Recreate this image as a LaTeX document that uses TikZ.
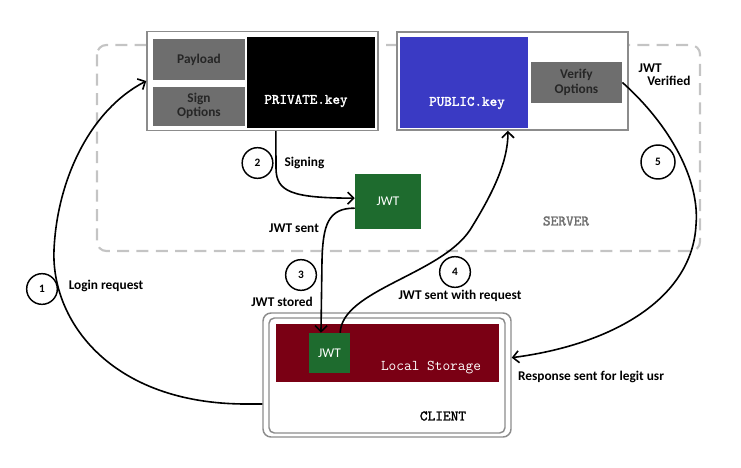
\documentclass[tikz,border=0pt]{standalone}
\usepackage{fontspec}
\setmainfont{Carlito}
\newfontfamily\keyfont{Latin Modern Mono}[FakeBold=1.6]
\usetikzlibrary{arrows.meta,positioning}

\definecolor{framegrey}{HTML}{8C8C8C}
\definecolor{optgrey}{HTML}{6E6E6E}
\definecolor{dashgrey}{HTML}{C4C4C4}
\definecolor{pubblue}{HTML}{3A3AC4}
\definecolor{jwtgreen}{HTML}{1E6B2E}
\definecolor{storered}{HTML}{7A0014}

\begin{document}
\begin{tikzpicture}[
        x=0.75pt, y=-0.75pt,
        every node/.style={font=\fontsize{10}{11}\selectfont\bfseries},
        frame/.style={
                draw=framegrey,
                line width=1.1pt,
                fill=white,
                minimum width=173.25pt,
                minimum height=74pt
        },
        optbox/.style={
                fill=optgrey,
                text=black!85,
                align=center,
                minimum width=68.5pt,
                inner sep=1pt
        },
        keybox/.style={minimum width=96pt, minimum height=68.25pt, inner sep=0pt},
        keytext/.style={text=white, font=\keyfont\fontsize{10.8}{12}\selectfont},
        jwt/.style={fill=jwtgreen, text=white, font=\fontsize{10}{11}\selectfont, inner sep=0pt},
        num/.style={draw, circle, line width=1.1pt, minimum size=23pt, inner sep=0pt,
                font=\fontsize{8.5}{10}\selectfont\bfseries},
        lbl/.style={inner sep=1pt},
        arrow/.style={-{Straight Barb[length=4.5pt, width=9pt]}, line width=1.2pt}
]
        \useasboundingbox (0,0) rectangle (741,467);

        % Server area (dashed), drawn first so that the boxes cover it
        \draw[dashgrey, line width=1.6pt, dash pattern=on 9pt off 5.5pt, rounded corners=7pt]
                (97,45) rectangle (700,251);

        % Signing side
        \node[frame] (private) at (262.5,81) {};
        \node[optbox, minimum height=30.75pt] (payload) at (199,59.5) {Payload};
        \node[optbox, minimum height=29.25pt, below=4.5pt of payload] (sign) {Sign\\Options};
        \node[keybox, fill=black] (privkey) at (311,82.5) {};
        \node[keytext] (privtxt) at (306,101) {PRIVATE.key};

        % Verifying side
        \node[frame, minimum height=73.5pt] (public) at (512.5,81) {};
        \node[keybox, fill=pubblue] (pubkey) at (464,82.5) {};
        \node[keytext] (pubtxt) at (467,103) {PUBLIC.key};
        \node[optbox, minimum height=30.75pt] (verify) at (576.5,82.5) {Verify\\Options};
        \node[lbl, align=left, anchor=west] (verified) at (637,75)
                {JWT\\[-1pt]\hspace*{6.5pt}Verified};

        % Token made on the server
        \node[jwt, minimum width=49.5pt, minimum height=41.25pt] (jwtsrv) at (388,201.5) {JWT};
        \node[lbl, text=optgrey, font=\keyfont\fontsize{11}{12}\selectfont]
                (server) at (566,221) {SERVER};

        % Client
        \node[draw=framegrey, line width=1.1pt, rounded corners=6pt,
                minimum width=186pt, minimum height=93pt] (client) at (387,375) {};
        \node[draw=framegrey, line width=1.1pt, rounded corners=4pt,
                minimum width=177pt, minimum height=86.25pt] (clientin) at (387,375.5) {};
        \node[fill=storered, minimum width=167.25pt, minimum height=43.5pt] (storage) at (387.5,353) {};
        \node[jwt, minimum width=30.75pt, minimum height=30pt] (jwtcli) at (329.5,353) {JWT};
        \node[text=white, font=\ttfamily\fontsize{11.2}{12}\selectfont] (storetxt) at (431,368) {Local Storage};
        \node[lbl, font=\keyfont\fontsize{11}{12}\selectfont] (clienttxt) at (443,416) {CLIENT};

        % Steps
        \node[num] (n1) at (42,289) {1};
        \node[lbl] (login) at (106,286) {Login request};
        \node[num] (n2) at (257.5,163) {2};
        \node[lbl, right=7pt of n2] (signing) {Signing};
        \node[lbl] (sent) at (294,228) {JWT sent};
        \node[num] (n3) at (301,275) {3};
        \node[lbl] (stored) at (282,302) {JWT stored};
        \node[num] (n4) at (455,272) {4};
        \node[lbl] (withreq) at (460,296) {JWT sent with request};
        \node[num, minimum size=25.5pt] (n5) at (658,162) {5};
        \node[lbl] (response) at (591,377) {Response sent for legit usr};

        % 1: login request
        \draw[arrow] ([yshift=-21.75pt]client.west) -- ++(-16,0)
                .. controls (110,404) and (51,320) .. (54,250)
                .. controls (57,180) and (90,110) .. (private.west);

        % 2: signing
        \draw[arrow] ([xshift=10pt]private.south) -- (276,168)
                .. controls (276,192) and (292,198) .. ([yshift=2.5pt]jwtsrv.west);

        % 3: token sent and stored
        \draw[arrow] ([yshift=-5pt]jwtsrv.west)
                .. controls (328,208) and (323,225) .. (322,260)
                -- ([xshift=-6.4pt]jwtcli.north);

        % 4: token sent with request
        \draw[arrow] ([xshift=8pt]jwtcli.north)
                .. controls (342,290) and (440,275) .. (470,230)
                .. controls (495,190) and (508,160) .. ([xshift=-3.4pt]public.south);

        % 5: response
        \draw[arrow] (verify.east)
                .. controls (670,125) and (700,180) .. (696,225)
                .. controls (692,300) and (610,345) .. ([yshift=13pt]client.east);

\end{tikzpicture}
\end{document}
